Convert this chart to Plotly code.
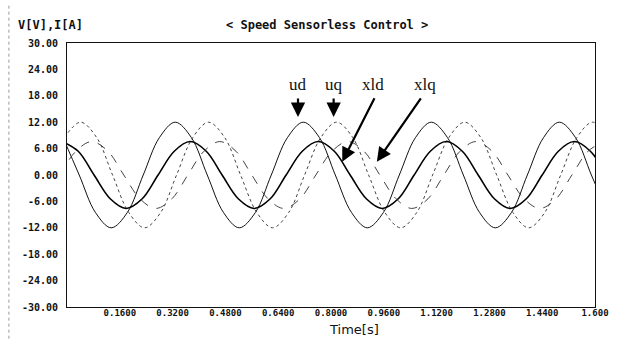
import plotly.graph_objects as go

# ---- data (time in s, values in V / A) ----
ud_t = [-0.012, 0.037, 0.086, 0.134, 0.183, 0.231, 0.280, 0.328, 0.377, 0.425, 0.474, 0.522,
        0.571, 0.619, 0.668, 0.716, 0.765, 0.813, 0.862, 0.910, 0.959, 1.007, 1.056, 1.104,
        1.153, 1.201, 1.250, 1.298, 1.347, 1.395, 1.444, 1.492, 1.541, 1.589, 1.638]
ud_v = [8.5, 0, -8.5, -12, -8.5, 0, 8.5, 12, 8.5, 0, -8.5, -12,
        -8.5, 0, 8.5, 12, 8.5, 0, -8.5, -12, -8.5, 0, 8.5, 12,
        8.5, 0, -8.5, -12, -8.5, 0, 8.5, 12, 8.5, 0, -8.5]

uq_t = [-0.008, 0.041, 0.090, 0.138, 0.187, 0.235, 0.284, 0.332, 0.381, 0.429, 0.478, 0.526,
        0.575, 0.623, 0.672, 0.720, 0.769, 0.817, 0.866, 0.914, 0.963, 1.011, 1.060, 1.108,
        1.157, 1.205, 1.254, 1.302, 1.351, 1.399, 1.448, 1.496, 1.545, 1.593, 1.642]
uq_v = [8.5, 12, 8.5, 0, -8.5, -12, -8.5, 0, 8.5, 12, 8.5, 0,
        -8.5, -12, -8.5, 0, 8.5, 12, 8.5, 0, -8.5, -12, -8.5, 0,
        8.5, 12, 8.5, 0, -8.5, -12, -8.5, 0, 8.5, 12, 8.5]

xld_t = [-0.015, 0.034, 0.082, 0.131, 0.179, 0.228, 0.276, 0.325, 0.373, 0.422, 0.470, 0.519,
         0.567, 0.616, 0.664, 0.713, 0.761, 0.810, 0.858, 0.907, 0.955, 1.004, 1.052, 1.101,
         1.149, 1.198, 1.246, 1.295, 1.343, 1.392, 1.440, 1.489, 1.537, 1.586, 1.634]
xld_v = [7.6, 5.4, 0, -5.4, -7.6, -5.4, 0, 5.4, 7.6, 5.4, 0, -5.4,
         -7.6, -5.4, 0, 5.4, 7.6, 5.4, 0, -5.4, -7.6, -5.4, 0, 5.4,
         7.6, 5.4, 0, -5.4, -7.6, -5.4, 0, 5.4, 7.6, 5.4, 0]

xlq_t = [-0.022, 0.027, 0.075, 0.124, 0.172, 0.221, 0.269, 0.318, 0.366, 0.415, 0.463, 0.512,
         0.560, 0.609, 0.657, 0.706, 0.754, 0.803, 0.851, 0.900, 0.948, 0.997, 1.045, 1.094,
         1.142, 1.191, 1.239, 1.288, 1.336, 1.385, 1.433, 1.482, 1.530, 1.579, 1.627]
xlq_v = [0, 5.4, 7.6, 5.4, 0, -5.4, -7.6, -5.4, 0, 5.4, 7.6, 5.4,
         0, -5.4, -7.6, -5.4, 0, 5.4, 7.6, 5.4, 0, -5.4, -7.6, -5.4,
         0, 5.4, 7.6, 5.4, 0, -5.4, -7.6, -5.4, 0, 5.4, 7.6]

x_ticks = [0.16, 0.32, 0.48, 0.64, 0.80, 0.96, 1.12, 1.28, 1.44, 1.60]
x_tick_text = ["0.1600", "0.3200", "0.4800", "0.6400", "0.8000", "0.9600",
               "1.1200", "1.2800", "1.4400", "1.600"]
y_ticks = [30, 24, 18, 12, 6, 0, -6, -12, -18, -24, -30]
y_tick_text = ["30.00", "24.00", "18.00", "12.00", "6.00", "0.00",
               "-6.00", "-12.00", "-18.00", "-24.00", "-30.00"]

labels = ["ud", "uq", "xld", "xlq"]
label_x = [0.700, 0.808, 0.927, 1.085]
label_y = 20.5
arrow_tip_x = [0.700, 0.808, 0.834, 0.939]
arrow_tip_y = [13.2, 13.2, 3.0, 3.0]

fig = go.Figure()
styles = [
    (ud_t, ud_v, dict(color="#111111", width=1.0, dash="solid")),
    (uq_t, uq_v, dict(color="#444444", width=1.0, dash="dot")),
    (xld_t, xld_v, dict(color="#000000", width=1.6, dash="solid")),
    (xlq_t, xlq_v, dict(color="#444444", width=1.0, dash="dash")),
]
for (t, v, ln), name in zip(styles, labels):
    fig.add_trace(go.Scatter(x=t, y=v, mode="lines", name=name,
                             line=dict(shape="spline", smoothing=1.0, **ln),
                             showlegend=False, hoverinfo="skip"))

mono = "DejaVu Sans Mono"
fig.update_xaxes(range=[0, 1.6], tickvals=x_ticks, ticktext=x_tick_text,
                 showgrid=False, zeroline=False, showline=True, mirror=True,
                 linecolor="#111111", linewidth=1, ticks="", ticklabelstandoff=-3,
                 tickfont=dict(family=mono, size=9, color="#111111", weight="bold"))
fig.update_yaxes(range=[-30, 30], tickvals=y_ticks, ticktext=y_tick_text,
                 showgrid=False, zeroline=False, showline=True, mirror=True,
                 linecolor="#111111", linewidth=1, ticks="", ticklabelstandoff=6,
                 tickfont=dict(family=mono, size=10, color="#111111", weight="bold"))

ann = []
ann.append(dict(text="< Speed Sensorless Control >", xref="paper", yref="paper",
                x=0.492, y=1.068, showarrow=False, xanchor="center", yanchor="middle",
                font=dict(family=mono, size=12, color="#111111", weight="bold")))
ann.append(dict(text="V[V],I[A]", xref="paper", yref="paper",
                x=-0.097, y=1.068, showarrow=False, xanchor="left", yanchor="middle",
                font=dict(family=mono, size=12, color="#111111", weight="bold")))
ann.append(dict(text="Time[s]", xref="paper", yref="paper",
                x=0.544, y=-0.085, showarrow=False, xanchor="center", yanchor="middle",
                font=dict(family="DejaVu Sans", size=13, color="#111111")))
for lab, lx in zip(labels, label_x):
    ann.append(dict(text=lab, x=lx, y=label_y, xref="x", yref="y", showarrow=False,
                    xanchor="center", yanchor="middle",
                    font=dict(family="Liberation Serif", size=17, color="#111111")))
offsets = [(0, -20), (0, -20), (33, -65), (45, -65)]
for tx, ty, (ax, ay) in zip(arrow_tip_x, arrow_tip_y, offsets):
    ann.append(dict(text="", x=tx, y=ty, xref="x", yref="y", showarrow=True,
                    ax=ax, ay=ay, arrowhead=2, arrowsize=1.3, arrowwidth=2.2,
                    arrowcolor="#000000", standoff=0))

fig.update_layout(width=621, height=339, margin=dict(l=67, r=17, t=43, b=32),
                  paper_bgcolor="white", plot_bgcolor="white", annotations=ann,
                  shapes=[dict(type="line", xref="paper", yref="paper",
                               x0=-0.110, x1=-0.110, y0=-0.12, y1=1.15,
                               line=dict(color="#999999", width=1, dash="dot"))])

fig.write_html("out.html", config={"displayModeBar": False},
               post_script="document.body.style.margin='0';document.body.style.overflow='hidden';")
